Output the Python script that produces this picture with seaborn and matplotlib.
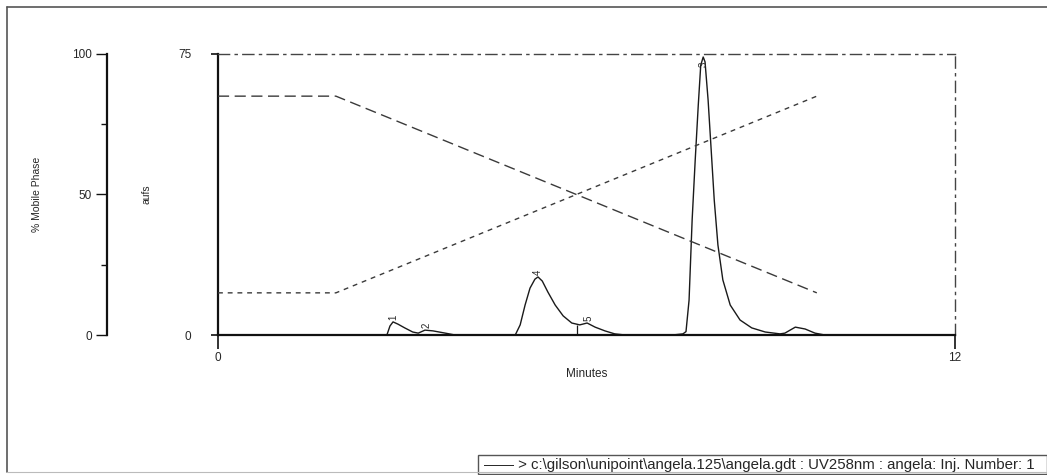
import numpy as np
import pandas as pd
import matplotlib
matplotlib.use("Agg")
import matplotlib.pyplot as plt
import seaborn as sns
from matplotlib.ticker import FixedLocator
from matplotlib.patches import Rectangle
from matplotlib.lines import Line2D

# chromatogram trace (minutes, aufs)
trace_min = [0.0, 2.75, 2.80, 2.85, 2.93, 3.04, 3.17, 3.26, 3.37, 3.50, 3.70, 3.86,
             4.84, 4.92, 5.00, 5.08, 5.16, 5.21, 5.28, 5.37, 5.49, 5.62, 5.76, 5.89,
             6.01, 6.14, 6.30, 6.46, 6.63, 7.40, 7.57, 7.62, 7.67, 7.72, 7.77, 7.82,
             7.86, 7.90, 7.93, 7.98, 8.03, 8.08, 8.14, 8.22, 8.34, 8.50, 8.69, 8.91,
             9.15, 9.23, 9.40, 9.56, 9.72, 9.88, 12.0]
trace_aufs = [0.0, 0.0, 2.4, 3.5, 2.9, 1.9, 0.8, 0.5, 1.3, 1.1, 0.5, 0.0,
              0.0, 2.7, 8.0, 12.5, 14.9, 15.5, 14.4, 11.5, 8.0, 5.1, 3.2, 2.7,
              3.2, 2.1, 1.1, 0.3, 0.0, 0.0, 0.3, 0.9, 9.3, 30.7, 46.7, 61.4,
              72.0, 74.2, 72.9, 62.7, 49.4, 36.0, 24.0, 14.7, 8.0, 4.0, 1.9, 0.8,
              0.3, 0.5, 2.1, 1.6, 0.5, 0.0, 0.0]

# mobile phase gradient (minutes, %)
grad_min = [0.0, 1.92, 9.75]
solvent_a = [85, 85, 15]
solvent_b = [15, 15, 85]

# peak labels
peak_ids = ["1", "2", "4", "5", "3"]
peak_min = [2.85, 3.40, 5.21, 6.03, 7.90]
peak_aufs = [3.5, 1.3, 15.5, 3.2, 74.2]
drop_min = [5.85]
drop_aufs = [2.8]

legend_text = "\u2014\u2014 > c:\\gilson\\unipoint\\angela.125\\angela.gdt : UV258nm : angela: Inj. Number: 1"

sns.set_style("ticks")
plt.rcParams['font.family'] = ['Liberation Sans', 'DejaVu Sans']

W, H = 1047, 475
fig = plt.figure(figsize=(W / 100, H / 100), dpi=100)
x0, x1, y0, y1 = 218, 955, 54, 335
ax = fig.add_axes([x0 / W, 1 - y1 / H, (x1 - x0) / W, (y1 - y0) / H])

df = pd.DataFrame({"Minutes": trace_min, "aufs": trace_aufs})
sns.lineplot(data=df, x="Minutes", y="aufs", ax=ax, color="#1a1a1a", lw=1.0)

ax.set_xlim(0, 12)
ax.set_ylim(0, 75)
ax.xaxis.set_major_locator(FixedLocator([0, 12]))
ax.yaxis.set_major_locator(FixedLocator([0, 75]))
ax.tick_params(axis="x", length=10, width=1.2, labelsize=8.5, pad=2, color="#111")
ax.tick_params(axis="y", length=5, width=1.2, labelsize=8.5, pad=14, color="#111")
for s in ["left", "bottom"]:
    ax.spines[s].set_linewidth(1.6)
    ax.spines[s].set_color("#111")
for s in ["top", "right"]:
    ax.spines[s].set_visible(True)
    ax.spines[s].set_linewidth(1.0)
    ax.spines[s].set_color("#444")
    ax.spines[s].set_linestyle((0, (8, 4, 1.5, 4)))
ax.set_xlabel("Minutes", fontsize=8.5, labelpad=3)
ax.set_ylabel("aufs", fontsize=7.5)
ax.yaxis.set_label_coords((152 - x0) / (x1 - x0), 0.5)
ax.grid(False)

for pid, t, h in zip(peak_ids, peak_min, peak_aufs):
    if pid == "3":
        ax.text(t, h - 1.2, pid, rotation=90, fontsize=7, ha="center", va="top")
    else:
        ax.text(t, h + 0.5, pid, rotation=90, fontsize=7, ha="center", va="bottom")
ax.vlines(drop_min, 0, drop_aufs, color="#1a1a1a", lw=0.9)

# gradient on a second axis
ax2 = ax.twinx()
gdf = pd.DataFrame({"Minutes": grad_min, "A": solvent_a, "B": solvent_b})
sns.lineplot(data=gdf, x="Minutes", y="A", ax=ax2, color="#3a3a3a", lw=1.0)
sns.lineplot(data=gdf, x="Minutes", y="B", ax=ax2, color="#3a3a3a", lw=1.0)
lines = ax2.get_lines()
lines[0].set_dashes((8, 4))
lines[1].set_dashes((3.5, 3.5))
ax2.set_ylim(0, 100)
ax2.yaxis.set_ticks_position("left")
ax2.yaxis.set_label_position("left")
ax2.spines["left"].set_position(("axes", (107 - x0) / (x1 - x0)))
ax2.spines["left"].set_linewidth(1.6)
ax2.spines["left"].set_color("#111")
for s in ["right", "top", "bottom"]:
    ax2.spines[s].set_visible(False)
ax2.yaxis.set_major_locator(FixedLocator([0, 50, 100]))
ax2.yaxis.set_minor_locator(FixedLocator([25, 75]))
ax2.tick_params(axis="y", which="major", length=8, width=1.0, labelsize=8.5, pad=3, color="#111")
ax2.tick_params(axis="y", which="minor", length=4, width=1.0, color="#111")
ax2.set_ylabel("% Mobile Phase", fontsize=7.5)
ax2.yaxis.set_label_coords((42 - x0) / (x1 - x0), 0.5)
ax2.grid(False)

# outer frame and legend box
fig.add_artist(Line2D([7 / W, 7 / W], [1 - 472 / H, 1 - 7 / H], color="#555", lw=1.2))
fig.add_artist(Line2D([7 / W, 1.0], [1 - 7 / H, 1 - 7 / H], color="#555", lw=1.2))
fig.add_artist(Line2D([7 / W, 1.0], [1 - 472 / H, 1 - 472 / H], color="#bbb", lw=0.8))
fig.add_artist(Rectangle((478 / W, 1 - 474 / H), (W - 478) / W, 19 / H,
                         fill=False, edgecolor="#555", lw=1.0, transform=fig.transFigure))
fig.text(484 / W, 1 - 465 / H, legend_text, fontsize=10.8, va="center", ha="left")

fig.savefig("out.png", dpi=100)
